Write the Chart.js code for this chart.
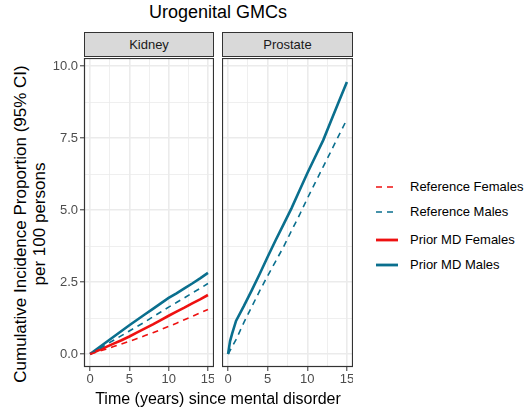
<!DOCTYPE html>
<html>
<head>
<meta charset="utf-8">
<script src="https://cdn.jsdelivr.net/npm/chart.js@4"></script>
<style>
  body { margin: 0; background: #fff; font-family: "Liberation Sans", Arial, sans-serif; }
  #wrap { position: relative; width: 525px; height: 411px; }
  .abs { position: absolute; }
  .strip { position: absolute; top: 32px; height: 25px; background: #d9d9d9; border: 1px solid #333;
           box-sizing: border-box; font-size: 13px; color: #1a1a1a; text-align: center; line-height: 24px; }
  .leg { position: absolute; left: 376px; font-size: 13px; color: #000; }
  .leg svg { position: absolute; left: 0; top: 0; }
  .leg span { position: absolute; left: 34px; top: -8px; white-space: nowrap; }
</style>
</head>
<body>
<div id="wrap">
  <div class="abs" style="left:0;width:436px;top:2px;text-align:center;font-size:18px;">Urogenital GMCs</div>

  <div class="abs" style="left:30px;top:224px;width:360px;transform:translate(-50%,-50%) rotate(-90deg);text-align:center;font-size:17px;line-height:19px;color:#000;">
    Cumulative Incidence Proportion (95% CI)<br>per 100 persons
  </div>

  <div class="strip" style="left:84px;width:130px;">Kidney</div>
  <div class="strip" style="left:222px;width:131px;">Prostate</div>

  <div class="abs" style="left:40px;top:58px;width:174px;height:336px;"><canvas id="kidney"></canvas></div>
  <div class="abs" style="left:222px;top:58px;width:131px;height:336px;"><canvas id="prostate"></canvas></div>

  <div class="abs" style="left:0;width:436px;top:390px;text-align:center;font-size:16px;">Time (years) since mental disorder</div>

  <div id="legend"></div>
</div>

<script>
  const kidneyYears = [0,1,2,3,4,5,6,7,8,9,10,11,12,13,14,15];
  const kidneyRefFemales   = [0,0.08,0.17,0.26,0.35,0.44,0.54,0.64,0.74,0.85,0.96,1.07,1.19,1.31,1.43,1.55];
  const kidneyRefMales     = [0,0.16,0.32,0.48,0.64,0.80,0.96,1.12,1.29,1.46,1.63,1.79,1.95,2.12,2.28,2.45];
  const kidneyPriorFemales = [0,0.12,0.24,0.36,0.48,0.61,0.75,0.89,1.03,1.18,1.33,1.47,1.61,1.76,1.90,2.05];
  const kidneyPriorMales   = [0,0.20,0.40,0.60,0.80,1.00,1.19,1.38,1.57,1.76,1.95,2.11,2.28,2.45,2.63,2.82];

  const prostateRefYears = [0,1,2,3,4,5,6,7,8,9,10,11,12,13,14,15];
  const prostateRefMales = [0,0.50,1.10,1.65,2.20,2.72,3.22,3.72,4.28,4.82,5.40,5.95,6.50,7.05,7.60,8.15];
  const prostatePriorYears = [0,0.25,0.5,1,2,3,4,5,6,7,8,9,10,11,12,13,14,15];
  const prostatePriorMales = [0,0.45,0.70,1.15,1.67,2.22,2.79,3.38,3.95,4.50,5.06,5.67,6.28,6.85,7.42,8.10,8.78,9.45];

  const xTicks = [0,2.5,5,7.5,10,12.5,15];
  const yTicks = [0,1.25,2.5,3.75,5,6.25,7.5,8.75,10];

  const RED = '#ee1111';
  const TEAL = '#0a6f8e';

  const legendItems = [
    { label: 'Reference Females', color: RED, dashed: true },
    { label: 'Reference Males', color: TEAL, dashed: true },
    { label: 'Prior MD Females', color: RED, dashed: false },
    { label: 'Prior MD Males', color: TEAL, dashed: false }
  ];

  function pts(xs, ys) {
    return xs.map((x, i) => ({ x: x, y: ys[i] }));
  }

  function series(xs, ys, color, dashed) {
    return {
      data: pts(xs, ys),
      borderColor: color,
      borderWidth: dashed ? 1.6 : 2.6,
      borderDash: dashed ? [6, 5] : [],
      pointRadius: 0,
      fill: false,
      tension: 0
    };
  }

  const panelBox = {
    id: 'panelBox',
    afterDatasetsDraw(chart) {
      const a = chart.chartArea;
      const ctx = chart.ctx;
      ctx.save();
      ctx.strokeStyle = '#333333';
      ctx.lineWidth = 1.2;
      ctx.strokeRect(Math.round(a.left) + 0.5, Math.round(a.top) + 0.5,
                     Math.round(a.right - a.left) - 1, Math.round(a.bottom - a.top) - 1);
      ctx.restore();
    }
  };

  function makeChart(id, datasets, showY) {
    return new Chart(document.getElementById(id), {
      type: 'line',
      data: { datasets: datasets },
      plugins: [panelBox],
      options: {
        responsive: true,
        maintainAspectRatio: false,
        animation: false,
        layout: { padding: 0 },
        plugins: { legend: { display: false }, tooltip: { enabled: false } },
        scales: {
          x: {
            type: 'linear',
            min: -0.77,
            max: 15.77,
            afterBuildTicks: (s) => { s.ticks = xTicks.map(v => ({ value: v })); },
            afterFit: (s) => { s.height = 27; s.paddingLeft = 0; s.paddingRight = 0; },
            border: { display: false },
            grid: {
              color: '#ebebeb',
              lineWidth: (c) => (c.tick && c.tick.value % 5 === 0) ? 1.6 : 0.8,
              tickLength: 4,
              tickColor: (c) => (c.tick && c.tick.value % 5 === 0) ? '#333333' : 'rgba(0,0,0,0)',
              tickWidth: 1
            },
            ticks: {
              autoSkip: false,
              maxRotation: 0,
              padding: 1,
              color: '#4d4d4d',
              font: { family: 'Liberation Sans', size: 13 },
              callback: (v) => (v % 5 === 0) ? String(v) : ''
            }
          },
          y: {
            type: 'linear',
            min: -0.45,
            max: 10.28,
            afterBuildTicks: (s) => { s.ticks = yTicks.map(v => ({ value: v })); },
            afterFit: (s) => { s.width = showY ? 44 : 0; s.paddingTop = 0; s.paddingBottom = 0; },
            border: { display: false },
            grid: {
              color: '#ebebeb',
              lineWidth: (c) => (c.tick && c.tick.value % 2.5 === 0) ? 1.6 : 0.8,
              drawTicks: showY,
              tickLength: 4,
              tickColor: (c) => (c.tick && c.tick.value % 2.5 === 0) ? '#333333' : 'rgba(0,0,0,0)',
              tickWidth: 1
            },
            ticks: {
              display: showY,
              autoSkip: false,
              padding: 2,
              color: '#4d4d4d',
              font: { family: 'Liberation Sans', size: 13 },
              callback: (v) => (v % 2.5 === 0) ? v.toFixed(1) : ''
            }
          }
        }
      }
    });
  }

  makeChart('kidney', [
    series(kidneyYears, kidneyRefFemales, RED, true),
    series(kidneyYears, kidneyRefMales, TEAL, true),
    series(kidneyYears, kidneyPriorFemales, RED, false),
    series(kidneyYears, kidneyPriorMales, TEAL, false)
  ], true);

  makeChart('prostate', [
    series(prostateRefYears, prostateRefMales, TEAL, true),
    series(prostatePriorYears, prostatePriorMales, TEAL, false)
  ], false);

  // legend
  const legendTop = [187, 212, 240, 265];
  const legend = document.getElementById('legend');
  legendItems.forEach((it, i) => {
    const d = document.createElement('div');
    d.className = 'leg';
    d.style.top = legendTop[i] + 'px';
    d.innerHTML =
      '<svg width="22" height="4" style="top:-2px"><line x1="0" y1="2" x2="22" y2="2" stroke="' + it.color +
      '" stroke-width="' + (it.dashed ? 1.6 : 2.8) + '"' + (it.dashed ? ' stroke-dasharray="6,5"' : '') +
      '/></svg><span>' + it.label + '</span>';
    legend.appendChild(d);
  });
</script>
</body>
</html>
